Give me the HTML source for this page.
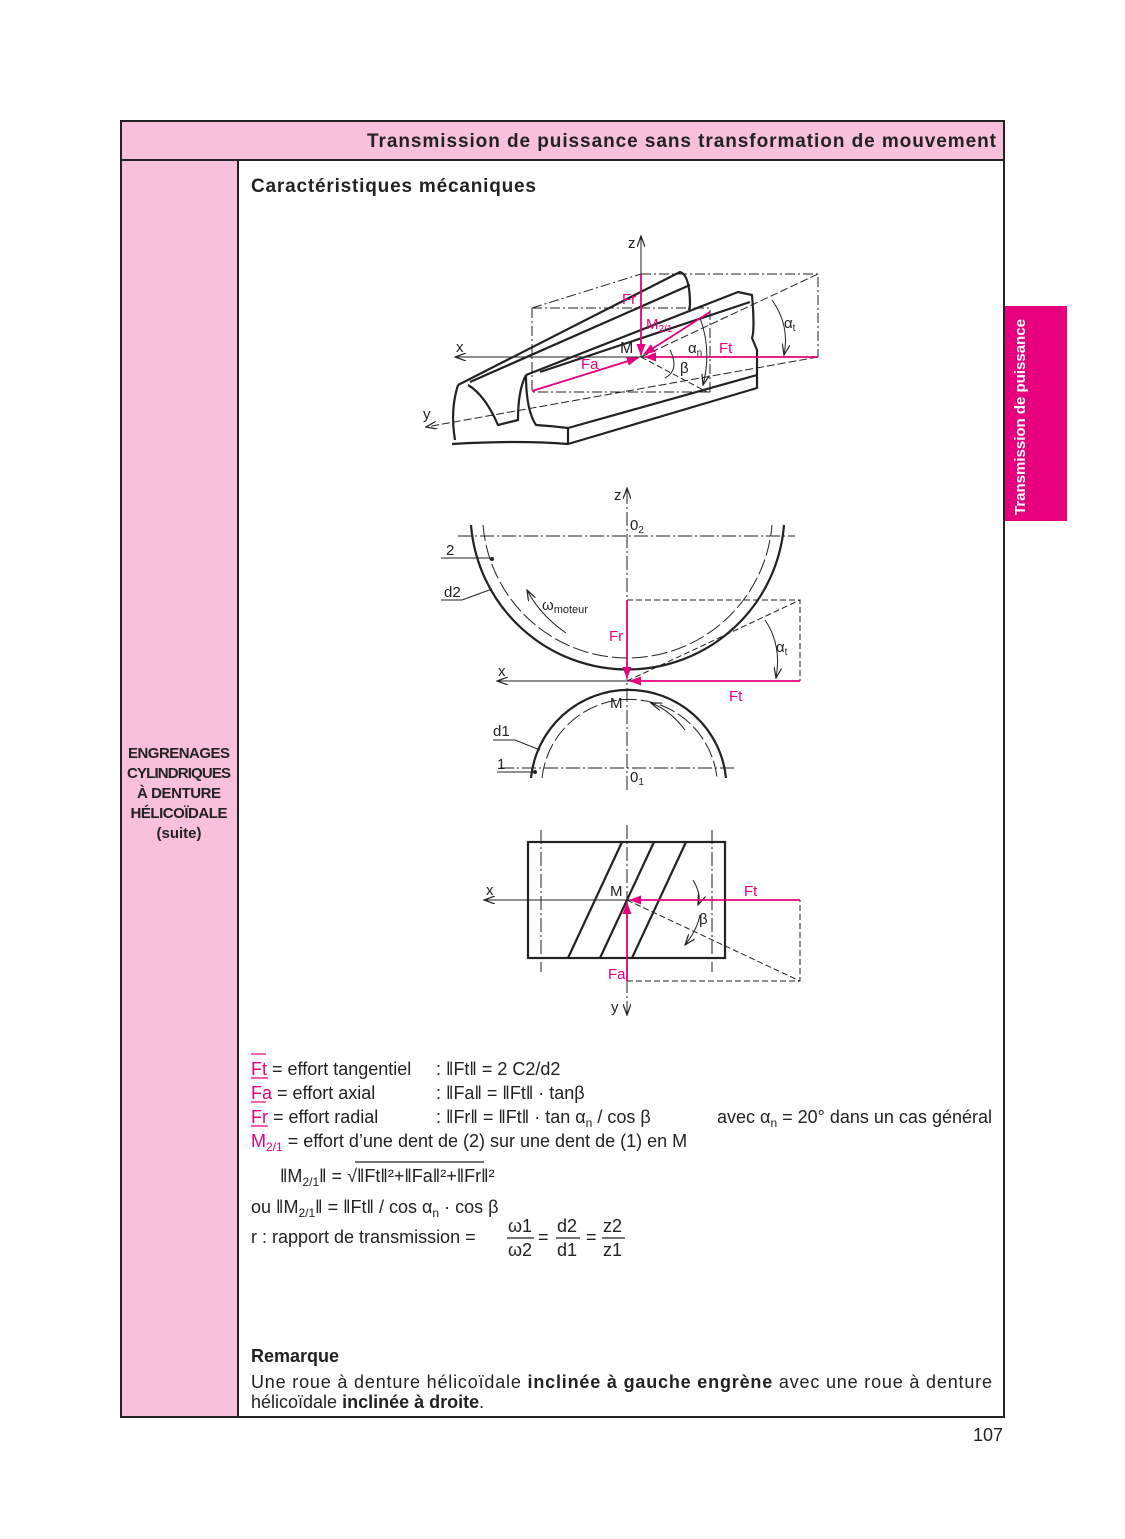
<!DOCTYPE html>
<html><head><meta charset="utf-8"><style>
body{margin:0;background:#fff}
svg{display:block}
text{font-family:"Liberation Sans",Arial,sans-serif}
</style></head><body>
<svg width="1125" height="1539" viewBox="0 0 1125 1539" xmlns="http://www.w3.org/2000/svg">
<defs>
<marker id="ao" markerWidth="12" markerHeight="8" refX="11" refY="4" orient="auto" markerUnits="userSpaceOnUse"><path d="M0,0 L11,4 L0,8" fill="none" stroke="#222" stroke-width="1.2"/></marker>
<marker id="am" markerWidth="12" markerHeight="9" refX="11" refY="4.5" orient="auto" markerUnits="userSpaceOnUse"><path d="M0,0 L12,4.5 L0,9 Z" fill="#e6007e"/></marker>
</defs>
<rect x="121" y="121" width="883" height="39" fill="#f8c0da"/>
<rect x="121" y="160" width="117" height="1257" fill="#f8c0da"/>
<rect x="121" y="121" width="883" height="1296" fill="none" stroke="#222" stroke-width="2"/>
<line x1="121" y1="160" x2="1004" y2="160" stroke="#222" stroke-width="2"/>
<line x1="238" y1="160" x2="238" y2="1417" stroke="#222" stroke-width="2"/>
<rect x="1005" y="306" width="62" height="215" fill="#e6007e"/>
<text transform="translate(1025,515) rotate(-90)" font-size="15" font-weight="bold" fill="#fff">Transmission de puissance</text>
<text x="367" y="147" font-size="19" font-weight="bold" fill="#222" textLength="629">Transmission de puissance sans transformation de mouvement</text>
<text x="251" y="192" font-size="19" font-weight="bold" fill="#222" textLength="285">Caractéristiques mécaniques</text>
<g font-size="15" font-weight="bold" text-anchor="middle" fill="#222">
<text x="179" y="758" textLength="102">ENGRENAGES</text><text x="179" y="778" textLength="104">CYLINDRIQUES</text><text x="179" y="798" textLength="84">À DENTURE</text><text x="179" y="818" textLength="97">HÉLICOÏDALE</text><text x="179" y="838" font-size="15">(suite)</text></g>

<!-- TOP DIAGRAM -->
<g fill="none" stroke="#222" stroke-width="1">
<path d="M532,308 L532,392 L710,392 M532,308 L710,308 L710,392 M641,274 L818,274 L818,357 M532,308 L641,274" stroke-dasharray="10,3,2,3"/>
<line x1="818" y1="357" x2="455" y2="357" marker-end="url(#ao)"/>
<line x1="818" y1="357" x2="426" y2="427" stroke-dasharray="8,3" marker-end="url(#ao)"/>
<line x1="641" y1="357" x2="641" y2="236" marker-end="url(#ao)"/>
<line x1="641" y1="357" x2="818" y2="274" stroke-dasharray="8,3"/>
<line x1="641" y1="357" x2="707" y2="392" stroke-dasharray="6,3"/>
</g>
<g fill="none" stroke="#222" stroke-width="2.2" stroke-linejoin="round">
<path d="M458,385 L680,272 Q690,275 690,305 L689,310"/>
<path d="M470,382 L690,285"/>
<path d="M526,375 L738,292 L752,295 Q755,330 752,338 L757,350 L757,375 L568,428 L568,444 Q520,440 452,444"/>
<path d="M526,375 Q518,390 518,420 L498,425 Q485,395 468,385"/>
<path d="M458,385 Q450,410 455,440"/>
<path d="M568,428 Q552,426 536,425 Q526,410 526,375"/>
<path d="M568,444 L757,388 L757,375"/>
<path d="M540,372 L750,302"/>
</g>
<g stroke="#e6007e" stroke-width="1.8" fill="none">
<line x1="641" y1="274" x2="641" y2="355" marker-end="url(#am)"/>
<line x1="710" y1="312" x2="644" y2="354" marker-end="url(#am)"/>
<line x1="818" y1="357" x2="645" y2="357" marker-end="url(#am)"/>
<line x1="532" y1="391" x2="638" y2="358" marker-end="url(#am)"/>
</g>
<g fill="none" stroke="#222" stroke-width="1">
<path d="M772,300 Q790,325 784,355" marker-end="url(#ao)"/>
<path d="M700,318 Q712,350 703,385" marker-end="url(#ao)"/>
<path d="M670,350 Q680,370 665,378"/>
</g>
<g font-size="15" fill="#222"><text x="628" y="248">z</text><text x="456" y="352">x</text><text x="423" y="419">y</text><text x="620" y="353" font-size="16">M</text>
<text x="784" y="328">α<tspan font-size="10" dy="3">t</tspan></text><text x="688" y="353">α<tspan font-size="10" dy="3">n</tspan></text><text x="680" y="373">β</text></g>
<g font-size="15" fill="#e6007e"><text x="622" y="304">Fr</text><text x="646" y="329">M<tspan font-size="10" dy="3">2/1</tspan></text><text x="719" y="353">Ft</text><text x="581" y="369">Fa</text></g>

<!-- MIDDLE DIAGRAM -->
<g fill="none" stroke="#222" stroke-width="1">
<line x1="627" y1="790" x2="627" y2="488" stroke-dasharray="14,3,2,3" marker-end="url(#ao)"/>
<line x1="458" y1="536" x2="795" y2="536" stroke-dasharray="14,3,2,3"/>
<line x1="500" y1="768" x2="735" y2="768" stroke-dasharray="14,3,2,3"/>
<line x1="800" y1="681" x2="497" y2="681" marker-end="url(#ao)"/>
<path d="M627,600 L800,600 L800,681" stroke-dasharray="6,3"/>
<line x1="627" y1="681" x2="800" y2="600" stroke-dasharray="6,3"/>
<path d="M483,525 A145,145 0 0 0 772,525" stroke-dasharray="16,4"/>
<path d="M542,778 A88,88 0 0 1 717,778" stroke-dasharray="16,4"/>
<path d="M765,620 Q782,645 776,678" marker-end="url(#ao)"/>
<path d="M566,633 Q540,615 527,590" marker-end="url(#ao)"/>
<path d="M685,730 Q670,710 651,703" marker-end="url(#ao)"/>
<path d="M441,558 L472,558 L490,558"/><path d="M441,600 L462,600 L492,589"/>
<path d="M493,740 L515,740 L540,750"/><path d="M497,772 L533,772"/>
</g>
<g fill="none" stroke="#222" stroke-width="2.2">
<path d="M471,525 A157,157 0 0 0 784,525"/>
<path d="M531,778 A98,98 0 0 1 726,778"/>
</g>
<circle cx="492" cy="559" r="2" fill="#222"/><circle cx="535" cy="772" r="2" fill="#222"/>
<g stroke="#e6007e" stroke-width="1.8"><line x1="627" y1="600" x2="627" y2="678" marker-end="url(#am)"/><line x1="800" y1="681" x2="630" y2="681" marker-end="url(#am)"/></g>
<g font-size="15" fill="#222"><text x="614" y="500">z</text><text x="630" y="530">0<tspan font-size="10" dy="3">2</tspan></text>
<text x="446" y="555">2</text><text x="444" y="597">d2</text><text x="542" y="610">ω<tspan font-size="11" dy="3">moteur</tspan></text>
<text x="498" y="676">x</text><text x="610" y="708">M</text><text x="493" y="736">d1</text><text x="497" y="769">1</text>
<text x="630" y="782">0<tspan font-size="10" dy="3">1</tspan></text><text x="776" y="652">α<tspan font-size="10" dy="3">t</tspan></text></g>
<g font-size="15" fill="#e6007e"><text x="609" y="641">Fr</text><text x="729" y="701">Ft</text></g>

<!-- BOTTOM DIAGRAM -->
<g fill="none" stroke="#222" stroke-width="1">
<line x1="627" y1="825" x2="627" y2="1015" stroke-dasharray="14,3,2,3" marker-end="url(#ao)"/>
<line x1="541" y1="830" x2="541" y2="972" stroke-dasharray="14,3,2,3"/>
<line x1="712" y1="830" x2="712" y2="972" stroke-dasharray="14,3,2,3"/>
<line x1="800" y1="900" x2="484" y2="900" marker-end="url(#ao)"/>
<path d="M627,981 L800,981 L800,900" stroke-dasharray="6,3"/>
<line x1="627" y1="900" x2="800" y2="981" stroke-dasharray="6,3"/>
<path d="M693,880 Q702,895 698,905" marker-end="url(#ao)"/>
<path d="M700,915 Q697,930 685,945" marker-end="url(#ao)"/>
</g>
<g fill="none" stroke="#222" stroke-width="2.2">
<rect x="528" y="842" width="197" height="116"/>
<line x1="568" y1="958" x2="622" y2="842"/><line x1="600" y1="958" x2="654" y2="842"/><line x1="632" y1="958" x2="686" y2="842"/>
</g>
<g stroke="#e6007e" stroke-width="1.8"><line x1="627" y1="981" x2="627" y2="903" marker-end="url(#am)"/><line x1="800" y1="900" x2="630" y2="900" marker-end="url(#am)"/></g>
<g font-size="15" fill="#222"><text x="486" y="895">x</text><text x="610" y="896">M</text><text x="611" y="1012">y</text><text x="699" y="924">β</text></g>
<g font-size="15" fill="#e6007e"><text x="744" y="896">Ft</text><text x="608" y="979">Fa</text></g>

<!-- FORMULAS -->
<g font-size="18" fill="#222">
<text x="251" y="1075"><tspan fill="#e6007e">Ft</tspan> = effort tangentiel</text><text x="436" y="1075">: ‖Ft‖ = 2 C2/d2</text>
<text x="251" y="1099"><tspan fill="#e6007e">Fa</tspan> = effort axial</text><text x="436" y="1099">: ‖Fa‖ = ‖Ft‖ · tanβ</text>
<text x="251" y="1123"><tspan fill="#e6007e">Fr</tspan> = effort radial</text><text x="436" y="1123">: ‖Fr‖ = ‖Ft‖ · tan α<tspan font-size="12" dy="4">n</tspan><tspan dy="-4"> / cos β</tspan></text>
<text x="992" y="1123" text-anchor="end">avec α<tspan font-size="12" dy="4">n</tspan><tspan dy="-4"> = 20° dans un cas général</tspan></text>
<text x="251" y="1147"><tspan fill="#e6007e">M<tspan font-size="12" dy="4">2/1</tspan></tspan><tspan dy="-4"> = effort d’une dent de (2) sur une dent de (1) en M</tspan></text>
<text x="280" y="1182">‖M<tspan font-size="12" dy="4">2/1</tspan><tspan dy="-4">‖ = √‖Ft‖²+‖Fa‖²+‖Fr‖²</tspan></text>
<text x="251" y="1213">ou ‖M<tspan font-size="12" dy="4">2/1</tspan><tspan dy="-4">‖ = ‖Ft‖ / cos α</tspan><tspan font-size="12" dy="4">n</tspan><tspan dy="-4"> · cos β</tspan></text>
<text x="251" y="1243">r : rapport de transmission =</text>
<text x="508" y="1232">ω1</text><text x="508" y="1256">ω2</text><text x="538" y="1243">=</text>
<text x="557" y="1232">d2</text><text x="557" y="1256">d1</text><text x="586" y="1243">=</text>
<text x="603" y="1232">z2</text><text x="603" y="1256">z1</text>
</g>
<g stroke="#222" stroke-width="1.2"><line x1="507" y1="1238" x2="534" y2="1238"/><line x1="556" y1="1238" x2="580" y2="1238"/><line x1="602" y1="1238" x2="625" y2="1238"/><line x1="355" y1="1162" x2="484" y2="1162"/></g>
<g stroke="#e6007e" stroke-width="1.2"><line x1="251" y1="1054" x2="266" y2="1054"/><line x1="251" y1="1078" x2="268" y2="1078"/><line x1="251" y1="1102" x2="266" y2="1102"/><line x1="251" y1="1126" x2="268" y2="1126"/></g>
<g font-size="18" fill="#222">
<text x="251" y="1362" font-weight="bold">Remarque</text>
<text x="251" y="1388" textLength="741">Une roue à denture hélicoïdale <tspan font-weight="bold">inclinée à gauche engrène</tspan> avec une roue à denture</text>
<text x="251" y="1408">hélicoïdale <tspan font-weight="bold">inclinée à droite</tspan>.</text>
<text x="1003" y="1441" text-anchor="end">107</text>
</g>
</svg>
</body></html>
